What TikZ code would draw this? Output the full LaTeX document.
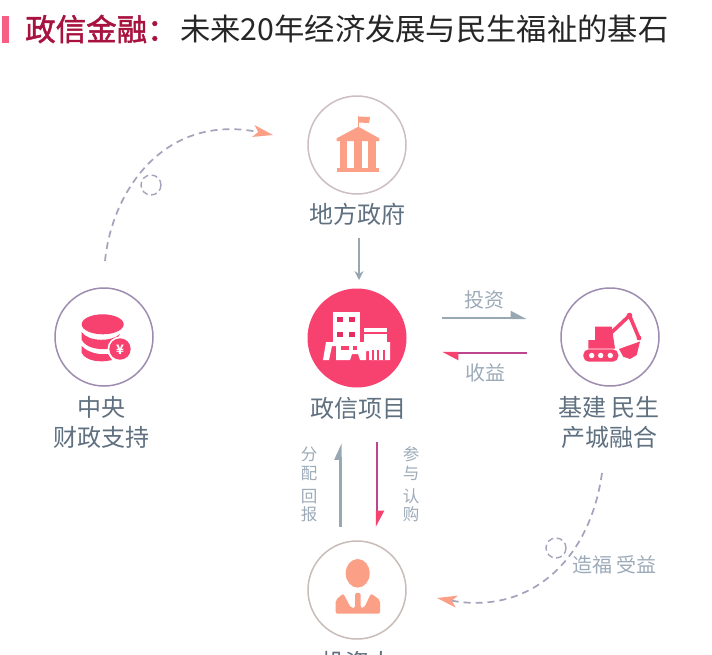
\documentclass[tikz,border=0pt]{standalone}
\usepackage{fontspec}
\setmainfont{Noto Sans CJK SC}
\newfontfamily\titlefont{Noto Sans CJK SC}[FakeBold=1.6]
\usetikzlibrary{arrows.meta}
\definecolor{labelc}{HTML}{5F7080}
\definecolor{smallc}{HTML}{9DABB9}
\definecolor{pinkc}{HTML}{F7416F}
\definecolor{salmon}{HTML}{FB9F86}
\definecolor{dashc}{HTML}{A3A3BC}
\definecolor{grayar}{HTML}{98A8B3}
\definecolor{magar}{HTML}{BC4590}
\definecolor{ringa}{HTML}{CDBEC4}
\definecolor{ringb}{HTML}{9E8DB0}
\definecolor{ringc}{HTML}{C8BDB8}
\tikzset{
  ring/.style={circle,draw=#1,line width=1.5pt,minimum size=98pt,inner sep=0pt},
  biglabel/.style={font=\fontsize{24}{30}\selectfont,text=labelc,align=center,inner sep=0pt},
  smalllabel/.style={font=\fontsize{20}{22}\selectfont,text=smallc,align=center,inner sep=0pt},
  vlabel/.style={font=\fontsize{16.5}{19}\selectfont,text=smallc,align=center,inner sep=0pt},
  flowdash/.style={draw=dashc,line width=1.7pt,dash pattern=on 7pt off 5pt},
  grayflow/.style={draw=grayar,line width=2.4pt},
  magflow/.style={draw=magar,line width=2.4pt},
}
\begin{document}
\begin{tikzpicture}[x=1pt,y=-1pt]
\useasboundingbox (0,0) rectangle (712,654);
\clip (0,0) rectangle (712,654);
\fill[white] (0,0) rectangle (712,654);
% title
\fill[pinkc!85!white] (2,16) rectangle (9,43);
\node[anchor=west,inner sep=0pt,text={rgb,255:red,168;green,18;blue,63},font=\fontsize{30.5}{32}\selectfont\titlefont] (t1) at (25,29) {政信金融：};
\node[anchor=west,inner sep=0pt,text=black!85,font=\fontsize{30.3}{32}\selectfont] (t2) at (180,29) {未来20年经济发展与民生福祉的基石};
% circles
\node[ring=ringa] (gov) at (357,145) {};
\node[circle,fill=pinkc,minimum size=99pt,inner sep=0pt] (proj) at (357,338) {};
\node[ring=ringb] (build) at (610,337) {};
\node[ring=ringb] (cent) at (104,337) {};
\node[ring=ringc] (inv) at (357,590) {};
% labels
\node[biglabel] (govl) at (357,214) {地方政府};
\node[biglabel] (projl) at (358,408) {政信项目};
\node[biglabel] (buildl) at (609,422) {基建 民生\\产城融合};
\node[biglabel] (centl) at (101,422) {中央\\财政支持};
\node[biglabel] (invl) at (357,662) {投资人};
\node[smalllabel] (l1) at (484,300) {投资};
\node[smalllabel] (l2) at (485,373) {收益};
\node[smalllabel,anchor=west] (l3) at (572,565) {造福 受益};
\node[vlabel] (l4) at (309,484) {分\\配\\[4pt]回\\[-1pt]报};
\node[vlabel] (l5) at (411,484) {参\\与\\[4pt]认\\[-1pt]购};
% coordinates
\coordinate (a1) at (442,318); \coordinate (a2) at (527,318);
\coordinate (b1) at (527,353); \coordinate (b2) at (442,353);
\coordinate (c1) at (340.5,527); \coordinate (c2) at (340.5,443);
\coordinate (d1) at (377,442); \coordinate (d2) at (377,527);
\coordinate (e1) at (359,238); \coordinate (e2) at (359,280);
\coordinate (f1) at (105,261); \coordinate (f2) at (273,135);
\coordinate (g1) at (602,473); \coordinate (g2) at (437,598);
% connectors
\draw[grayflow,-{Stealth[length=14pt,width=14pt,harpoon,inset=0pt]}] (a1) -- (a2);
\draw[magflow,-{Stealth[length=14pt,width=14pt,harpoon,inset=0pt,color=pinkc]}] (b1) -- (b2);
\draw[grayflow,-{Stealth[length=14pt,width=12pt,harpoon,inset=0pt]}] (c1) -- (c2);
\draw[magflow,-{Stealth[length=14pt,width=14pt,harpoon,inset=0pt,color=pinkc]}] (d1) -- (d2);
\draw[draw=grayar,line width=2pt,-{Stealth[length=9pt,width=9pt]}] (e1) -- (e2);
\draw[flowdash,-{Stealth[length=20pt,width=12pt,inset=5pt,color=salmon]}] (f1) .. controls (112,190) and (165,113) .. (f2);
\draw[flowdash,-{Stealth[length=20pt,width=12pt,inset=5pt,color=salmon]}] (g1) .. controls (590,560) and (530,615) .. (g2);
\draw[draw=dashc,line width=1.4pt,dash pattern=on 6pt off 3.5pt] (151,185) circle (10);
\draw[draw=dashc,line width=1.4pt,dash pattern=on 6pt off 3.5pt] (556,548) circle (10);
% bank icon
\fill[salmon] (336.7,138.3) -- (358.3,126.7) -- (379.3,138.3) -- (379.3,141) -- (336.7,141) -- cycle;
\fill[salmon] (340,141) rectangle (347.3,167.5);
\fill[salmon] (354,141) rectangle (361.7,167.5);
\fill[salmon] (368.3,141) rectangle (376,167.5);
\fill[salmon] (336.7,168) rectangle (379.3,171.7);
\fill[salmon] (357.6,116) rectangle (358.8,127);
\fill[salmon] (358.5,116.5) -- (370,117) -- (369,123) -- (358.5,122.5) -- cycle;
% building icon
\fill[white] (333.3,312.3) rectangle (360,343);
\foreach \cx/\cy in {340/319.5,352/319.5,340/334,352/334}
  \fill[pinkc!70!purple] (\cx-3.3,\cy-2.5) rectangle (\cx+3.3,\cy+2.5);
\fill[white] (364,327.5) rectangle (387.3,331.5);
\fill[white] (364,334) rectangle (387.3,344);
\fill[white] (323,360) -- (326,342) -- (390,342) -- (390,360) -- (369,360) -- (369,351) -- (366,351) -- (366,360) -- (360,360) -- (358,354) -- (352,354) -- (350,360) -- (336,360) -- (336,346) -- (332,346) -- (329,360) -- cycle;
\foreach \cx in {372.5,378,384}
  \fill[pinkc] (\cx-1,350) rectangle (\cx+1,360);
\fill[pinkc] (341,346) rectangle (349,350);
\fill[pinkc] (353,346) rectangle (357,350);
% excavator icon
\fill[pinkc] (595,326.7) -- (611.7,326.7) -- (615,348.5) -- (588.3,348.5) -- (588.3,340) -- (595,340) -- cycle;
\draw[pinkc,line width=3.6pt,line join=round] (611,333) -- (629.5,315.5) -- (639,338);
\fill[pinkc] (629.5,315.5) circle (2.8);
\fill[pinkc] (639,338) circle (2.4);
\fill[pinkc] (619,349) -- (640,341.5) -- (636.7,355) -- (630,359) -- (623.3,356.7) -- cycle;
\fill[pinkc,rounded corners=5.5pt] (583.3,349.3) rectangle (618.3,361.7);
\foreach \cx in {591.7,600.7,610.3}
  \fill[white] (\cx,355.5) circle (2.7);
% coins icon
\fill[pinkc] (102.7,324.3) ellipse (21 and 10);
\fill[pinkc] (81.7,332) .. controls (88,342) and (112,342) .. (120,334) -- (110,349) .. controls (95,350) and (86,347) .. (81.7,340) -- cycle;
\fill[pinkc] (81.7,346) .. controls (88,353) and (100,355) .. (108,354) -- (112,360) .. controls (100,363) and (86,361) .. (81.7,353) -- cycle;
\fill[white] (120,349) circle (12.5);
\fill[pinkc] (120,349) circle (10.7);
\node[inner sep=0pt,text=white,font=\fontsize{13}{13}\selectfont\bfseries] (yen) at (120,349.5) {¥};
% person icon
\fill[salmon] (357.7,573.3) ellipse (12 and 14.3);
\fill[salmon,rounded corners=2pt] (335.7,613.7) -- (335.7,600) -- (343.3,593.5) -- (351,608) -- (355,608) -- (355,593) -- (360.7,593) -- (360.7,608) -- (364,608) -- (371,593.5) -- (380,600) -- (380,613.7) -- cycle;
\end{tikzpicture}
\end{document}
